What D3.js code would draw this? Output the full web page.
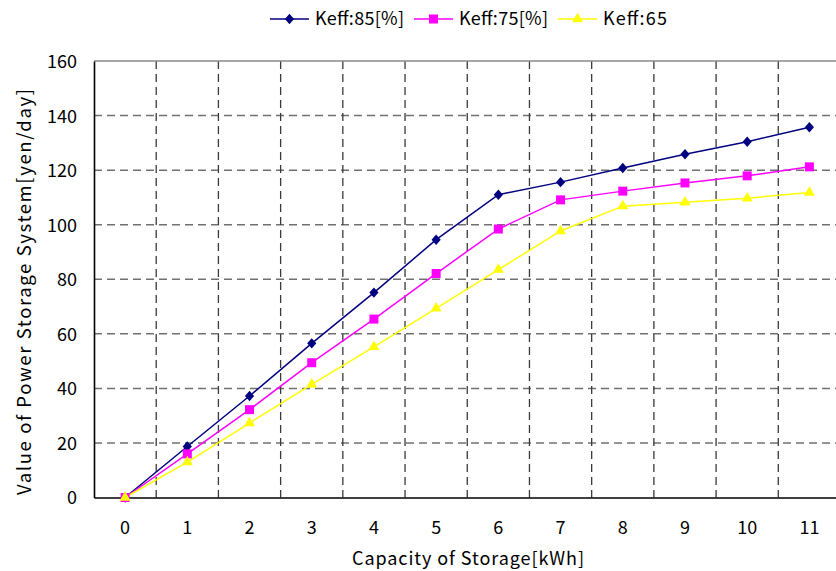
<!DOCTYPE html>
<html>
<head>
<meta charset="utf-8">
<script src="https://cdn.jsdelivr.net/npm/d3@7"></script>
<style>
  html, body { margin: 0; padding: 0; background: #fff; }
  svg { display: block; }
  text { font-family: "Noto Sans CJK JP", "DejaVu Sans", sans-serif; fill: #000; }
</style>
</head>
<body>
<svg id="chart" width="836" height="571"></svg>
<script>
// Capacity of storage (kWh) categories
const capacities = ["0", "1", "2", "3", "4", "5", "6", "7", "8", "9", "10", "11"];
// Value of power storage system (yen/day) per efficiency
const keff85 = [0, 18.7, 37.2, 56.5, 75.1, 94.5, 111.0, 115.6, 120.8, 125.8, 130.4, 135.7];
const keff75 = [0, 16.0, 32.2, 49.4, 65.4, 82.1, 98.4, 109.1, 112.3, 115.3, 117.9, 121.2];
const keff65 = [0, 13.0, 27.3, 41.5, 55.2, 69.3, 83.5, 97.7, 106.8, 108.2, 109.7, 111.8];
const seriesNames = ["Keff:85[%]", "Keff:75[%]", "Keff:65"];
const yTicks = [0, 20, 40, 60, 80, 100, 120, 140, 160];

// diamond marker: 9 wide, 10 tall
const diamond = {
  draw(ctx) {
    ctx.moveTo(0, -5.2); ctx.lineTo(4.6, 0); ctx.lineTo(0, 5.2); ctx.lineTo(-4.6, 0); ctx.closePath();
  }
};

const series = [
  { name: seriesNames[0], values: keff85, color: "#000080", symbol: diamond, size: 64, textLen: 89 },
  { name: seriesNames[1], values: keff75, color: "#FF00FF", symbol: d3.symbolSquare, size: 81, textLen: 89 },
  { name: seriesNames[2], values: keff65, color: "#FFFF00", symbol: d3.symbolTriangle, size: 52, textLen: 64 }
];

const svg = d3.select("#chart");
const plotL = 94, plotR = 840.5, plotT = 61, plotB = 497.5;

const x = d3.scaleBand().domain(capacities).range([plotL, plotR]).padding(0);
const y = d3.scaleLinear().domain([0, 160]).range([plotB, plotT]);
const cx = c => x(c) + x.bandwidth() / 2;

// horizontal grid
svg.append("g").selectAll("line")
  .data(yTicks.filter(t => t > 0 && t < 160))
  .join("line")
  .attr("x1", plotL).attr("x2", plotR)
  .attr("y1", d => y(d)).attr("y2", d => y(d))
  .attr("stroke", "#707070").attr("stroke-width", 1.5)
  .attr("stroke-dasharray", "8,5");

// vertical grid at category boundaries
svg.append("g").selectAll("line")
  .data(capacities.slice(1))
  .join("line")
  .attr("x1", d => x(d)).attr("x2", d => x(d))
  .attr("y1", plotT).attr("y2", plotB)
  .attr("stroke", "#3a3a3a").attr("stroke-width", 1.3)
  .attr("stroke-dasharray", "8,5");

// top frame line
svg.append("line")
  .attr("x1", plotL).attr("x2", plotR).attr("y1", y(160)).attr("y2", y(160))
  .attr("stroke", "#8a8a8a").attr("stroke-width", 1.5);

// axes
const yAxis = d3.axisLeft(y).tickValues(yTicks).tickSize(0).tickPadding(17);
const gy = svg.append("g").attr("transform", `translate(${plotL},0)`).call(yAxis);
gy.select(".domain").attr("stroke", "#000").attr("stroke-width", 1.6);
gy.selectAll("text").attr("font-size", 18).attr("dy", "0.36em");

const xAxis = d3.axisBottom(x).tickSize(0).tickPadding(24);
const gx = svg.append("g").attr("transform", `translate(0,${plotB})`).call(xAxis);
gx.select(".domain").attr("stroke", "#000").attr("stroke-width", 1.6);
gx.selectAll("text").attr("font-size", 18).attr("dy", "0.71em");

// axis titles
svg.append("text")
  .attr("x", 468).attr("y", 565)
  .attr("text-anchor", "middle").attr("font-size", 18)
  .attr("textLength", 232).attr("lengthAdjust", "spacing")
  .text("Capacity of Storage[kWh]");
svg.append("text")
  .attr("transform", "translate(31,292) rotate(-90)")
  .attr("text-anchor", "middle").attr("font-size", 18.5)
  .attr("textLength", 406).attr("lengthAdjust", "spacing")
  .text("Value of Power Storage System[yen/day]");

// series lines and markers
const line = d3.line().x((d, i) => cx(capacities[i])).y(d => y(d));
series.forEach(s => {
  svg.append("path")
    .attr("d", line(s.values))
    .attr("fill", "none").attr("stroke", s.color).attr("stroke-width", 1.5);
});
series.forEach(s => {
  svg.append("g").selectAll("path")
    .data(s.values)
    .join("path")
    .attr("transform", (d, i) => `translate(${cx(capacities[i])},${y(d)})`)
    .attr("d", d3.symbol().type(s.symbol).size(s.size))
    .attr("fill", s.color);
});

// legend
const legendX = [270, 414, 558];
series.forEach((s, i) => {
  const g = svg.append("g").attr("transform", `translate(${legendX[i]},19)`);
  g.append("line").attr("x1", 0).attr("x2", 39).attr("y1", 0).attr("y2", 0)
    .attr("stroke", s.color).attr("stroke-width", 1.5);
  g.append("path").attr("transform", "translate(19.5,0)")
    .attr("d", d3.symbol().type(s.symbol).size(s.size)).attr("fill", s.color);
  g.append("text").attr("x", 45).attr("y", 0).attr("dy", "0.36em")
    .attr("font-size", 18)
    .attr("textLength", s.textLen).attr("lengthAdjust", "spacing")
    .text(s.name);
});
</script>
</body>
</html>
